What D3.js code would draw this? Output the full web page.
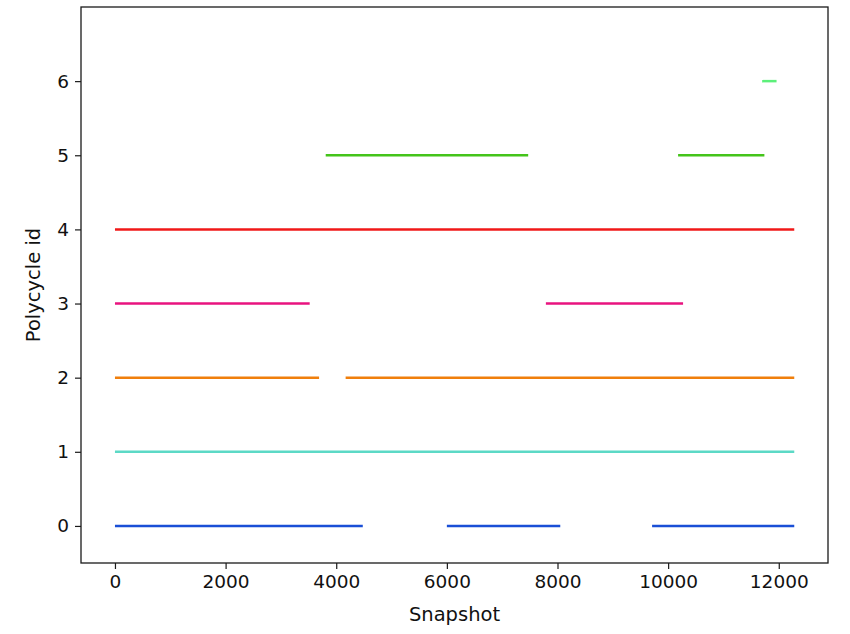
<!DOCTYPE html>
<html><head><meta charset="utf-8">
<script src="https://cdn.jsdelivr.net/npm/d3@7"></script>
<style>body{margin:0;background:#fff;} text{font-family:"DejaVu Sans",sans-serif;}</style>
</head><body>
<svg id="chart" width="850" height="634"></svg>
<script>
// Data: polycycle id, segment start snapshot, segment end snapshot
const ids = [0, 0, 0, 1, 2, 2, 3, 3, 4, 5, 5, 6];
const starts = [0, 6000, 9710, 0, 0, 4170, 0, 7790, 0, 3810, 10180, 11700];
const ends = [4480, 8050, 12280, 12280, 3690, 12280, 3520, 10270, 12280, 7470, 11740, 11960];
const idColors = ["#1a4fd6", "#5cd9c6", "#f07f0c", "#e8137f", "#f01818", "#44c41a", "#5cf07a"];
const xTicks = [0, 2000, 4000, 6000, 8000, 10000, 12000];
const yTicks = [0, 1, 2, 3, 4, 5, 6];

const svg = d3.select("#chart");
const L = 81, R = 828, T = 7, B = 563;
const x = d3.scaleLinear().domain([-614, 12890]).range([L, R]);
const y = d3.scaleLinear().domain([-0.5, 7]).range([B, T]);

const segs = ids.map((id, i) => ({id, s: starts[i], e: ends[i]}));
svg.append("g").selectAll("line").data(segs).join("line")
  .attr("x1", d => x(d.s)).attr("x2", d => x(d.e))
  .attr("y1", d => y(d.id)).attr("y2", d => y(d.id))
  .attr("stroke", d => idColors[d.id]).attr("stroke-width", 2.5);

svg.append("rect").attr("x", L).attr("y", T).attr("width", R - L).attr("height", B - T)
  .attr("fill", "none").attr("stroke", "#1a1a1a").attr("stroke-width", 1.3);

const xa = svg.append("g").attr("transform", `translate(0,${B})`)
  .call(d3.axisBottom(x).tickValues(xTicks).tickFormat(d3.format("d")).tickSize(6).tickPadding(6));
const ya = svg.append("g").attr("transform", `translate(${L},0)`)
  .call(d3.axisLeft(y).tickValues(yTicks).tickFormat(d3.format("d")).tickSize(6).tickPadding(6));
[xa, ya].forEach(g => {
  g.select(".domain").remove();
  g.selectAll(".tick line").attr("stroke", "#1a1a1a").attr("stroke-width", 1.2);
  g.selectAll(".tick text").attr("fill", "#111").style("font-size", "18.5px").style("font-family", "DejaVu Sans");
});

svg.append("text").attr("x", (L + R) / 2).attr("y", 621).attr("text-anchor", "middle")
  .style("font-size", "19.5px").attr("fill", "#111").text("Snapshot");
svg.append("text").attr("transform", `translate(40,${(T + B) / 2}) rotate(-90)`).attr("text-anchor", "middle")
  .style("font-size", "19.5px").attr("fill", "#111").text("Polycycle id");
</script>
</body></html>
